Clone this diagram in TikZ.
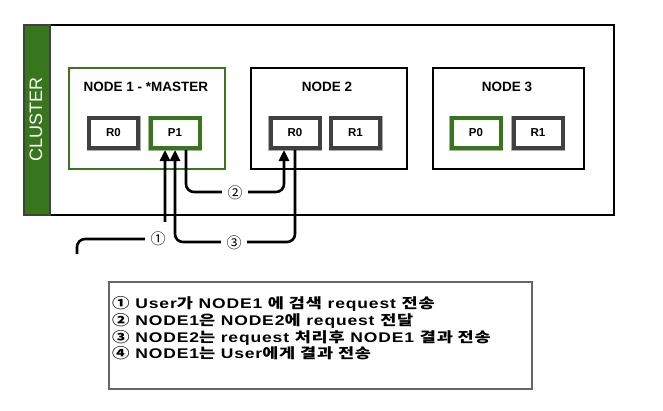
\documentclass[tikz,border=0pt]{standalone}
\usepackage{fontspec}
\setmainfont{Liberation Sans}
\newfontfamily\kr{Noto Sans CJK KR}
\newfontfamily\legfont{Liberation Sans}[FakeStretch=1.25,LetterSpace=6]
\newfontfamily\legkr{Noto Sans CJK KR}[FakeStretch=1.25,LetterSpace=6]
\usetikzlibrary{arrows.meta,calc}
\newcommand\kor[1]{{\legkr #1}}
\definecolor{grn}{HTML}{38761D}
\definecolor{shard}{HTML}{404040}
\definecolor{boxgray}{HTML}{666666}
\tikzset{
  x=1pt,y=-1pt,
  nodebox/.style={draw=black,line width=2pt,minimum width=156pt,minimum height=101pt,inner sep=0pt},
  title/.style={font=\fontsize{13.5}{15}\selectfont\bfseries,inner sep=0pt},
  shardbox/.style={draw=shard,line width=4pt,fill=white,minimum width=49pt,minimum height=30pt,inner sep=0pt,
     font=\fontsize{11.5}{13}\selectfont\bfseries,
     preaction={draw=gray!65,line width=5pt}},
  primary/.style={shardbox,draw=grn},
  arr/.style={line width=2.6pt,rounded corners=8pt,-{Triangle[length=11pt,width=10pt]}},
  lab/.style={fill=white,inner sep=0pt,minimum width=26pt,minimum height=34pt,font=\kr\fontsize{15}{16}\selectfont},
  legline/.style={anchor=base west,inner sep=0pt,font=\legfont\fontsize{14}{16}\selectfont\bfseries},
}
\begin{document}
\begin{tikzpicture}
\useasboundingbox (0,0) rectangle (663,410);
% cluster
\node[draw=black,line width=2pt,minimum width=564pt,minimum height=190pt,inner sep=0pt,anchor=north west] (cluster) at (49,24) {};
\node[draw=shard,line width=2pt,fill=grn,minimum width=26pt,minimum height=190pt,inner sep=0pt,anchor=north west] (bar) at (23,24) {};
\node[rotate=90,text=white,font=\fontsize{18}{20}\selectfont,inner sep=0pt] (clabel) at (36,119) {CLUSTER};
% nodes
\node[nodebox,draw=grn,anchor=north west] (n1) at (68,67) {};
\node[nodebox,anchor=north west] (n2) at (250,67) {};
\node[nodebox,anchor=north west,minimum width=151pt] (n3) at (432,67) {};
\node[title] (t1) at (146,87) {NODE 1 - *MASTER};
\node[title] (t2) at (327,87) {NODE 2};
\node[title] (t3) at (507,87) {NODE 3};
% shards
\node[shardbox] (n1r0) at (113.5,133) {R0};
\node[primary] (p1) at (175,133) {P1};
\node[shardbox] (n2r0) at (295,133) {R0};
\node[shardbox] (n2r1) at (355.5,133) {R1};
\node[primary] (p0) at (476,133) {P0};
\node[shardbox] (n3r1) at (538,133) {R1};
% connectors
\coordinate (user) at (77,254);
\draw[arr] (user) -- ++(0,-15) -| ([xshift=-10pt]p1.south);
\draw[arr] ([xshift=11pt]p1.south) -- ++(0,42) -| ([xshift=-11pt]n2r0.south);
\draw[arr] (n2r0.south) -- ++(0,92) -| (p1.south);
\node[lab] (l1) at (158,239) {①};
\node[lab] (l2) at (235,193) {②};
\node[lab] (l3) at (234,243) {③};
% legend
\node[draw=boxgray,line width=1.5pt,minimum width=423pt,minimum height=107pt,inner sep=0pt,anchor=north west] (legend) at (108,281) {};
\node[legline] (g1) at (112,308) {\kor{①} User\kor{가} NODE1 \kor{에 검색} request \kor{전송}};
\node[legline] (g2) at (112,325) {\kor{②} NODE1\kor{은} NODE2\kor{에} request \kor{전달}};
\node[legline] (g3) at (112,342) {\kor{③} NODE2\kor{는} request \kor{처리후} NODE1 \kor{결과 전송}};
\node[legline] (g4) at (112,358) {\kor{④} NODE1\kor{는} User\kor{에게 결과 전송}};
\end{tikzpicture}
\end{document}
